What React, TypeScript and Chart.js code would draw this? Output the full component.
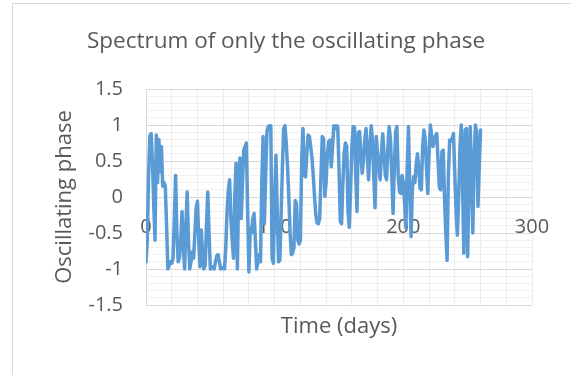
import React, { useEffect, useRef } from "react";
import { Chart, registerables } from "chart.js";

Chart.register(...registerables);

// Daily oscillating phase values, day 0 .. 260
const phase: number[] = [
  -0.9, -0.6, 0.3, 0.85, 0.88, 0.5, -0.1, -0.6, 0.86, 0.2,
  0.8, 0.35, 0.7, 0.15, 0.2, 0.15, -0.4, -1.0, -0.95, -0.9,
  -0.92, -0.85, -0.3, 0.3, -0.5, -0.9, -0.85, -0.6, -0.2, -0.7,
  -1.0, -0.4, 0.07, -0.6, -1.0, -0.9, -0.76, -0.85, -0.5, -0.15,
  -0.06, -0.6, -0.97, -0.46, -0.8, -1.0, -0.95, -0.4, 0.07, -0.5,
  -1.0, -0.98, -0.97, -1.0, -0.9, -0.82, -0.8, -0.9, -1.0, -0.99,
  -0.98, -1.0, -0.7, -0.2, 0.1, 0.24, -0.3, -0.6, -0.85, 0.0,
  0.47, -1.0, 0.1, 0.54, -0.3, 0.2, 0.65, 0.7, 0.75, -0.2,
  -1.04, -0.44, -0.5, -0.3, -0.23, -0.6, -1.0, -0.9, -0.8, -0.9,
  0.2, 0.84, -0.37, 0.3, 0.9, 0.98, 0.99, 0.99, -0.85, -0.92,
  0.0, 0.58, -0.2, -0.9, -0.88, -0.25, 0.4, 0.95, 0.99, 0.75,
  0.42, 0.0, -0.5, -0.8, -0.78, -0.7, -0.05, -0.1, -0.6, -0.65,
  -0.6, 0.5, 0.95, 0.3, 0.28, 0.6, 0.86, 0.84, 0.7, 0.54,
  0.3, 0.0, -0.25, -0.36, -0.37, -0.3, 0.3, 0.84, 0.81, 0.01,
  0.2, 0.6, 0.77, 0.79, 0.42, 0.7, 0.99, 0.95, 0.99, 0.98,
  0.4, -0.34, -0.37, 0.2, 0.6, 0.75, 0.7, -0.2, -0.42, 0.1,
  0.7, 0.98, 0.97, 0.3, -0.2, 0.9, 0.91, 0.6, 0.33, 0.5,
  0.8, 0.95, 0.6, 0.24, 0.7, 0.99, 0.8, 0.3, -0.15, 0.84,
  0.6, 0.4, 0.24, 0.6, 0.88, 0.6, 0.3, 0.24, 0.7, 0.98,
  0.8, 0.3, -0.23, 0.4, 0.9, 0.98, 0.3, 0.07, 0.05, 0.3,
  0.2, -0.1, -0.43, 0.4, 0.98, 0.1, -0.55, 0.1, 0.28, 0.2,
  0.45, 0.6, 0.4, 0.12, 0.1, 0.7, 0.93, 0.8, 0.4, 0.05,
  0.6, 1.0, 0.85, 0.7, 0.78, 0.85, 0.88, 0.5, 0.14, 0.1,
  0.63, 0.65, 0.0, -0.5, -0.88, 0.3, 0.79, 0.78, 0.82, 0.88,
  0.3, -0.2, -0.53, 0.0, 0.7, 1.0, 0.2, -0.78, 0.93, 0.95,
  -0.83, 0.2, 0.98, 0.3, -0.5, 0.5, 1.0, 0.9, -0.13, 0.4,
  0.93,
];

const days: number[] = phase.map((_, i) => i);

const xLabelTicks: number[] = [0, 100, 200, 300];
const xRange: [number, number] = [0, 300];
const yRange: [number, number] = [-1.5, 1.5];

const TEXT = "#595959";
const FONT = "'Open Sans', sans-serif";

const isMajorY = (v: number) => Math.abs(v * 2 - Math.round(v * 2)) < 1e-9;

export default function App() {
  const canvasRef = useRef<HTMLCanvasElement | null>(null);

  useEffect(() => {
    const canvas = canvasRef.current;
    if (!canvas) return;
    const chart = new Chart(canvas, {
      type: "line",
      data: {
        datasets: [
          {
            data: days.map((d, i) => ({ x: d, y: phase[i] })),
            borderColor: "#5B9BD5",
            borderWidth: 3.5,
            pointRadius: 0,
            tension: 0,
            borderJoinStyle: "round",
            borderCapStyle: "round",
            xAxisID: "x",
            yAxisID: "y",
          },
        ],
      },
      options: {
        responsive: false,
        animation: false,
        devicePixelRatio: 1,
        layout: { padding: { left: 40, right: 39, top: 0, bottom: 0 } },
        plugins: {
          legend: { display: false },
          tooltip: { enabled: false },
          title: {
            display: true,
            text: "Spectrum of only the oscillating phase",
            color: TEXT,
            font: { family: FONT, size: 22.5, weight: "normal", lineHeight: 1.2 },
            padding: { top: 28.5, bottom: 33.5 },
          },
        },
        scales: {
          x: {
            type: "linear",
            position: "bottom",
            min: xRange[0],
            max: xRange[1],
            ticks: { display: false, stepSize: 20, maxTicksLimit: 40 },
            grid: {
              drawTicks: false,
              color: (ctx: any) => (ctx.tick && ctx.tick.value === 0 ? "#d9d9d9" : "#ececec"),
            },
            border: { display: false },
            title: {
              display: true,
              text: "Time (days)",
              color: TEXT,
              font: { family: FONT, size: 22, weight: "normal", lineHeight: 1.2 },
              padding: { top: 0, bottom: 35 },
            },
            afterFit: (s: any) => {
              s.height = 70;
            },
          },
          x2: {
            type: "linear",
            axis: "x",
            position: { y: 0 },
            min: xRange[0],
            max: xRange[1],
            afterBuildTicks: (s: any) => {
              s.ticks = xLabelTicks.map((v) => ({ value: v }));
            },
            ticks: {
              color: TEXT,
              font: { family: FONT, size: 20, weight: "normal" },
              padding: 18,
              maxRotation: 0,
              autoSkip: false,
            },
            grid: { display: false, drawTicks: false },
            border: { display: false },
          },
          y: {
            type: "linear",
            min: yRange[0],
            max: yRange[1],
            ticks: {
              stepSize: 0.1,
              maxTicksLimit: 40,
              autoSkip: false,
              color: TEXT,
              font: { family: FONT, size: 20, weight: "normal" },
              padding: 23,
              callback: (v: any) => (isMajorY(Number(v)) ? String(Number(v)) : ""),
            },
            grid: {
              drawTicks: false,
              color: (ctx: any) =>
                ctx.tick && isMajorY(ctx.tick.value) ? "#d9d9d9" : "#f0f0f0",
            },
            border: { display: true, color: "#d9d9d9" },
            title: {
              display: true,
              text: "Oscillating phase",
              color: TEXT,
              font: { family: FONT, size: 22, weight: "normal", lineHeight: 1.2 },
              padding: { top: 12, bottom: 0 },
            },
            afterFit: (s: any) => {
              s.width = 106;
            },
          },
        },
      },
    });
    return () => chart.destroy();
  }, []);

  return (
    <div
      style={{
        position: "fixed",
        left: 0,
        top: 0,
        width: 571,
        height: 375,
        overflow: "hidden",
        background: "#ffffff",
      }}
    >
      <div
        style={{
          position: "absolute",
          left: 12,
          top: 3,
          width: 700,
          height: 500,
          border: "1px solid #d9d9d9",
          boxSizing: "border-box",
        }}
      />
      <canvas
        ref={canvasRef}
        width={571}
        height={375}
        style={{ position: "absolute", left: 0, top: 0, width: 571, height: 375 }}
      />
    </div>
  );
}
